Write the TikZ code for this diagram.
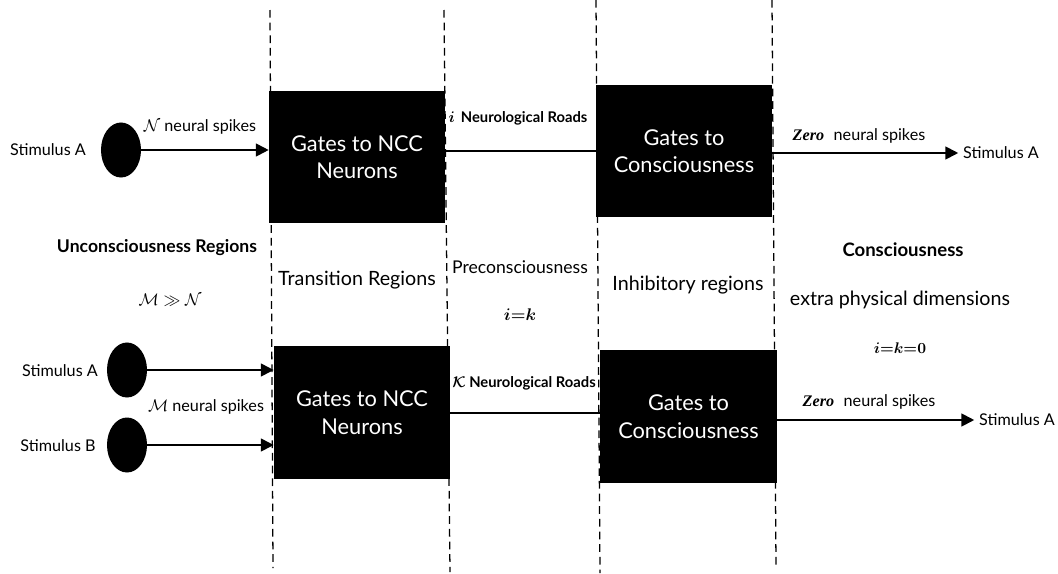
\documentclass[tikz,border=0pt]{standalone}
\usepackage{amsmath}
\usepackage{fontspec}
\setmainfont{Lato}
\newfontfamily\zerofont{Liberation Serif}
\usetikzlibrary{arrows.meta,positioning,shapes.geometric}

\tikzset{
  gate/.style={fill=black,text=white,align=center,inner sep=0pt,
    minimum width=4.4cm,minimum height=3.3cm,font=\fontsize{15.5}{19.5}\selectfont},
  stim/.style={ellipse,fill=black,inner sep=0pt,minimum width=1cm,minimum height=1.375cm},
  lbl/.style={font=\fontsize{11.5}{13}\selectfont},
  roadlbl/.style={font=\bfseries\fontsize{10.5}{12}\selectfont},
  region/.style={font=\fontsize{14}{16}\selectfont},
  zone/.style={dash pattern=on 5.5pt off 3.5pt,line width=0.9pt},
  arr/.style={-{Triangle[length=3.2mm,width=3.2mm]},line width=1.3pt},
  road/.style={line width=1.3pt}
}
\newcommand{\zerotxt}{{\zerofont\bfseries\itshape Zero}}

\begin{document}
\begin{tikzpicture}[x=0.025cm,y=-0.025cm]
  \useasboundingbox (0,0) rectangle (1058,573);

  % region borders
  \draw[zone] (270,10) -- (273,568);
  \draw[zone] (444,10) -- (450,572);
  \draw[zone] (596,0) -- (600,573);
  \draw[zone] (772,0) -- (776,566);

  % upper row
  \node[gate] (gA1) at (357,157) {Gates to NCC\\Neurons};
  \node[gate] (gA2) at (684,151) {Gates to\\Consciousness};
  \node[stim] (sA) at (121,150) {};
  \node[lbl] (stA) at (48,150) {Stimulus A};
  \node[lbl] (outA) at (1001,153) {Stimulus A};
  \draw[arr] (sA.east) -- (sA.east -| gA1.west);
  \draw[road] (gA1.east |- 0,151) -- (gA2.west |- 0,151);
  \draw[arr] (gA2.east |- outA) -- (outA.west);
  \node[lbl] (nA) at (200,127) {$\mathcal{N}$ neural spikes};
  \node[roadlbl] (rA) at (518,118) {$\boldsymbol{i}$\, Neurological Roads};
  \node[lbl] (zA) at (859,136) {\zerotxt\,\, neural spikes};

  % lower row
  \node[gate] (gB1) at (362,412.5) {Gates to NCC\\Neurons};
  \node[gate] (gB2) at (688.5,416.5) {Gates to\\Consciousness};
  \node[stim] (sB1) at (127,370) {};
  \node[stim] (sB2) at (127,445) {};
  \node[lbl] (stB1) at (60,371) {Stimulus A};
  \node[lbl] (stB2) at (58,446) {Stimulus B};
  \node[lbl] (outB) at (1017,420) {Stimulus A};
  \draw[arr] (sB1.east) -- (sB1.east -| gB1.west);
  \draw[arr] (sB2.east) -- (sB2.east -| gB1.west);
  \draw[road] (gB1.east |- 0,413) -- (gB2.west |- 0,413);
  \draw[arr] (gB2.east |- outB) -- (outB.west);
  \node[lbl] (mB) at (206,407) {$\mathcal{M}$ neural spikes};
  \node[roadlbl] (rB) at (524,383) {$\boldsymbol{\mathcal{K}}$ Neurological Roads};
  \node[lbl] (zB) at (869,402) {\zerotxt\,\, neural spikes};

  % region names
  \node[region,font=\bfseries\fontsize{12.5}{15}\selectfont] (unc) at (157,248) {Unconsciousness Regions};
  \node[lbl] (mn) at (170,300) {$\mathcal{M}\gg\mathcal{N}$};
  \node[region] (tra) at (357,280) {Transition Regions};
  \node[region,font=\fontsize{12.5}{15}\selectfont] (pre) at (520,267) {Preconsciousness};
  \node[lbl,font=\fontsize{12.5}{14}\selectfont] (ik) at (520,315) {$\boldsymbol{i{=}k}$};
  \node[region] (inh) at (688,285) {Inhibitory regions};
  \node[region,font=\bfseries\fontsize{13.2}{15}\selectfont] (con) at (903,250) {Consciousness};
  \node[region] (ext) at (900,300) {extra physical dimensions};
  \node[lbl,font=\fontsize{11}{13}\selectfont] (ik0) at (900,348) {$\boldsymbol{i{=}k{=}0}$};
\end{tikzpicture}
\end{document}
